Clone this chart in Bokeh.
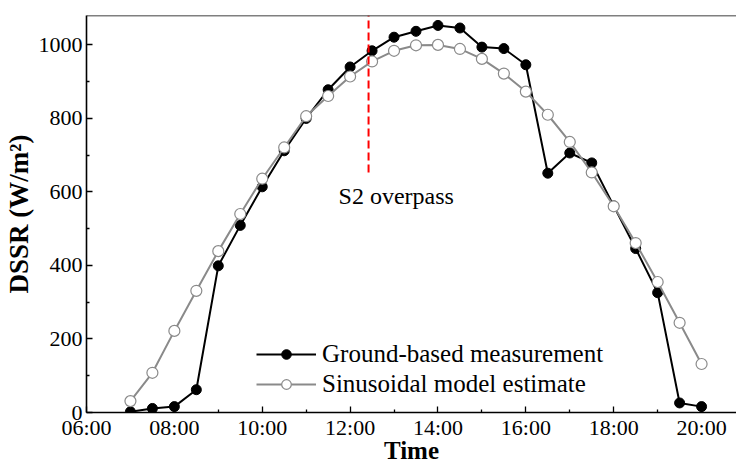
from bokeh.plotting import figure
from bokeh.models import (FixedTicker, Span, Label, Legend, LegendItem, Range1d)
from bokeh.embed import file_html
from bokeh.resources import INLINE

# ---- data ----
time_h = [7.0, 7.5, 8.0, 8.5, 9.0, 9.5, 10.0, 10.5, 11.0, 11.5, 12.0, 12.5, 13.0, 13.5,
          14.0, 14.5, 15.0, 15.5, 16.0, 16.5, 17.0, 17.5, 18.0, 18.5, 19.0, 19.5, 20.0]
ground = [2, 11, 16, 62, 399, 509, 614, 712, 800, 878, 940, 984, 1021, 1037,
          1053, 1046, 994, 990, 946, 651, 706, 679, 562, 446, 326, 26, 16]
model = [31, 108, 222, 331, 439, 540, 636, 721, 806, 861, 914, 955, 984, 999,
         1000, 989, 962, 922, 873, 810, 736, 653, 561, 461, 355, 244, 132]
x_ticks = [6, 8, 10, 12, 14, 16, 18, 20]
x_tick_labels = ["06:00", "08:00", "10:00", "12:00", "14:00", "16:00", "18:00", "20:00"]
x_minor = [7, 9, 11, 13, 15, 17, 19]
y_ticks = [0, 200, 400, 600, 800, 1000]
y_minor = [100, 300, 500, 700, 900]
overpass_time = 12.42
overpass_span = [653, 1080]
overpass_text = "S2 overpass"
x_left, x_right = 6, 20.795
y_top = 1080

FONT = "Liberation Serif"

p = figure(width=736, height=466, output_backend="svg", toolbar_location=None,
           x_range=Range1d(x_left, x_right), y_range=Range1d(0, y_top),
           min_border_left=85, min_border_right=0, min_border_top=15, min_border_bottom=54)
p.outline_line_color = None
p.grid.visible = False
p.background_fill_color = "white"

xax = p.xaxis[0]
yax = p.yaxis[0]
xax.ticker = FixedTicker(ticks=x_ticks, minor_ticks=x_minor)
xax.major_label_overrides = {t: l for t, l in zip(x_ticks, x_tick_labels)}
yax.ticker = FixedTicker(ticks=y_ticks, minor_ticks=y_minor)

for ax in (xax, yax):
    ax.axis_line_color = "black"
    ax.axis_line_width = 1.6
    ax.major_tick_in = 6
    ax.major_tick_out = 0
    ax.minor_tick_in = 3
    ax.minor_tick_out = 0
    ax.major_tick_line_color = "black"
    ax.minor_tick_line_color = "black"
    ax.major_tick_line_width = 1.3
    ax.minor_tick_line_width = 1.3
    ax.major_label_text_font = FONT
    ax.major_label_text_font_size = "22px"
    ax.major_label_text_color = "black"
    ax.axis_label_text_font = FONT
    ax.axis_label_text_font_style = "bold"
    ax.axis_label_text_color = "black"

xax.major_label_standoff = 2
xax.axis_label_standoff = -6
xax.axis_label_text_font_size = "25px"
yax.major_label_standoff = 4
yax.axis_label_standoff = 2
yax.axis_label_text_font_size = "27px"

xax.axis_label = "Time"
yax.axis_label = "DSSR (W/m²)"

# top spine
p.add_layout(Span(location=y_top, dimension="width", line_color="black", line_width=1.6))

# series
l1 = p.line(time_h, ground, line_color="black", line_width=2)
s1 = p.scatter(time_h, ground, size=10, fill_color="black", line_color="black")
l2 = p.line(time_h, model, line_color="#8a8a8a", line_width=2)
s2 = p.scatter(time_h, model, size=11, fill_color="white", line_color="#8a8a8a", line_width=1.2)

# overpass line
p.line([overpass_time, overpass_time], overpass_span, line_color="red", line_width=2,
       line_dash="8 4")
p.add_layout(Label(x=overpass_time + 0.63, y=590, text=overpass_text, text_align="center",
                   text_baseline="alphabetic", text_font=FONT, text_font_size="24px",
                   text_color="black"))

legend = Legend(items=[LegendItem(label="Ground-based measurement", renderers=[l1, s1]),
                       LegendItem(label="Sinusoidal model estimate", renderers=[l2, s2])],
                location=(170, 14), glyph_width=60, glyph_height=24, label_standoff=6,
                padding=0, margin=0, spacing=2, border_line_color=None,
                background_fill_alpha=0, label_text_font=FONT,
                label_text_font_size="25px", label_text_color="black")
p.add_layout(legend)

open("out.html", "w").write(file_html(p, INLINE))
